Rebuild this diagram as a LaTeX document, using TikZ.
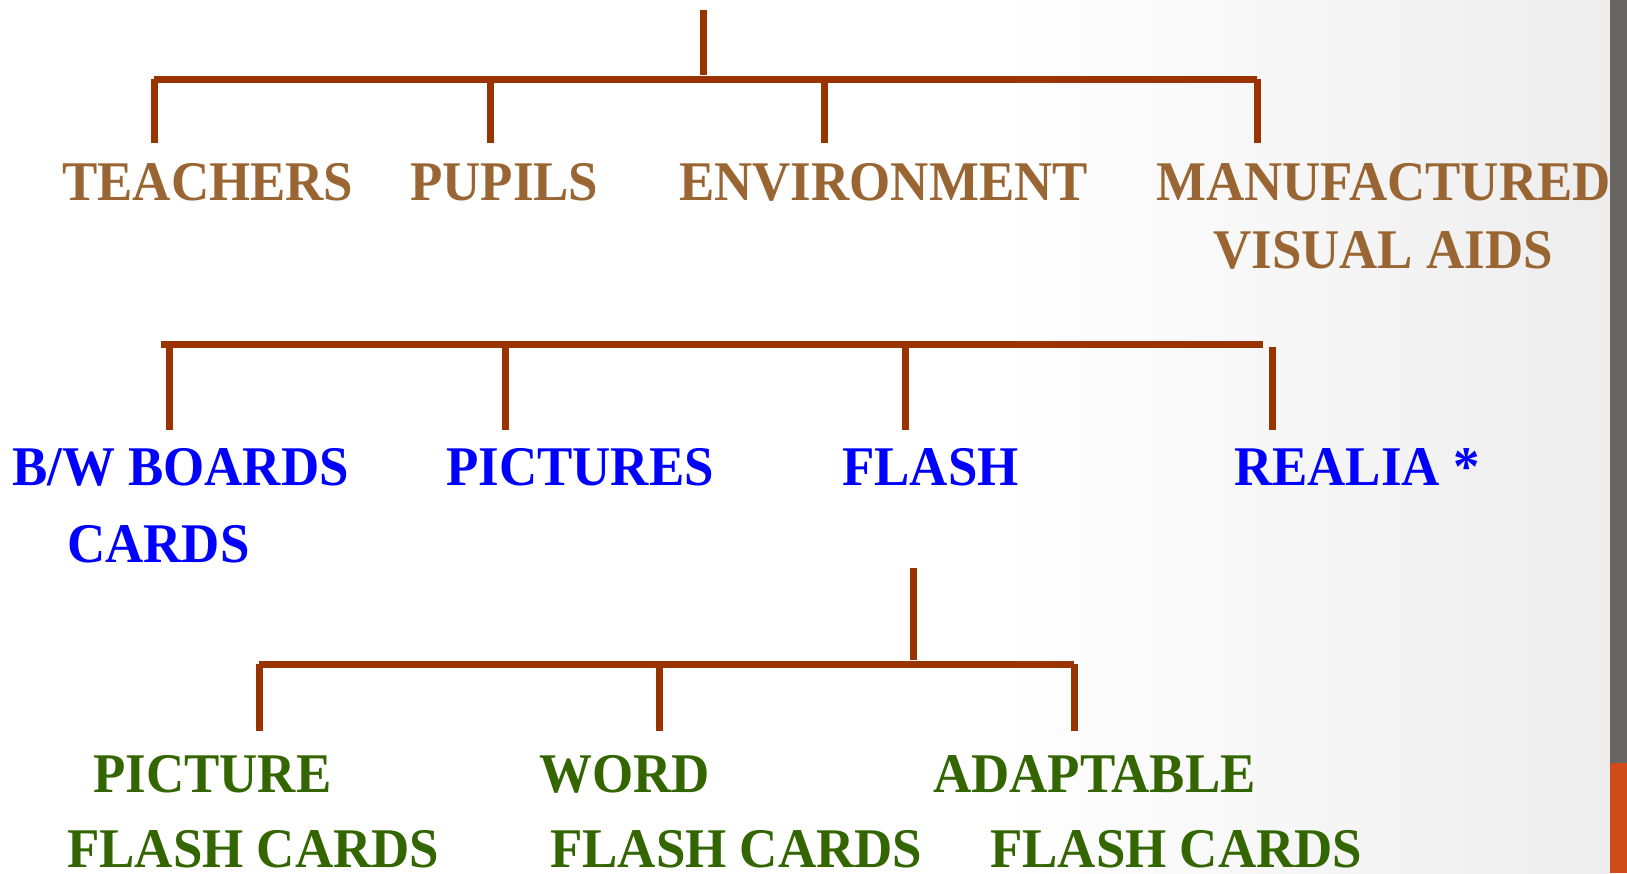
\documentclass[tikz,border=0pt]{standalone}
\usepackage{fontspec}
\setmainfont{Liberation Serif}[FakeStretch=0.945]
\usepackage{tikz}

\definecolor{linebrown}{RGB}{153,51,0}
\definecolor{textbrown}{RGB}{153,102,51}
\definecolor{textblue}{RGB}{0,0,255}
\definecolor{textgreen}{RGB}{51,102,0}
\definecolor{sidegray}{RGB}{103,100,98}
\definecolor{sideorange}{RGB}{208,74,26}

\tikzset{
  branch/.style={draw=linebrown, line width=7pt},
  label1/.style={anchor=base west, inner sep=0pt, text depth=0pt, text=textbrown, font=\fontsize{56}{66}\selectfont\bfseries},
  label2/.style={label1, text=textblue},
  label3/.style={label1, text=textgreen}
}

\begin{document}
\begin{tikzpicture}[x=1pt,y=-1pt]
  \useasboundingbox (0,0) rectangle (1627,873);
  \fill[white] (0,0) rectangle (1627,873);
  \shade[left color=white, right color=black!7] (1000,0) rectangle (1610,873);
  \fill[sidegray] (1610,0) rectangle (1627,763);
  \fill[sideorange] (1610,763) rectangle (1627,873);

  % first level
  \coordinate (root) at (703,10);
  \coordinate (rootj) at (703,75);
  \coordinate (bar1l) at (154,79);
  \coordinate (bar1r) at (1257,79);
  \draw[branch] (root) -- (rootj);
  \draw[branch] (bar1l) -- (bar1r);
  \foreach \n/\x in {tea/154,pup/490,env/824,man/1257}{
    \coordinate (\n top) at (\x,79);
    \coordinate (\n end) at (\x,143);
    \draw[branch] (\n top) -- (\n end);
  }
  \node[label1] (teachers) at (62,200) {TEACHERS};
  \node[label1] (pupils) at (410,200) {PUPILS};
  \node[label1] (environment) at (679,200) {ENVIRONMENT};
  \node[label1] (manufactured) at (1156,200) {MANUFACTURED};
  \node[label1] (visualaids) at (1213,268) {VISUAL AIDS};

  % second level
  \coordinate (bar2l) at (161,344);
  \coordinate (bar2r) at (1263,344);
  \draw[branch] (bar2l) -- (bar2r);
  \foreach \n/\x in {bw/169,pic/505,fla/905}{
    \coordinate (\n top) at (\x,344);
    \coordinate (\n end) at (\x,430);
    \draw[branch] (\n top) -- (\n end);
  }
  \coordinate (reatop) at (1272,347);
  \coordinate (reaend) at (1272,430);
  \draw[branch] (reatop) -- (reaend);
  \node[label2] (bwboards) at (12,485) {B/W BOARDS};
  \node[label2] (cards) at (67,562) {CARDS};
  \node[label2] (pictures) at (446,485) {PICTURES};
  \node[label2] (flash) at (842,485) {FLASH};
  \node[label2] (realia) at (1234,485) {REALIA *};

  % third level
  \coordinate (flroot) at (913,568);
  \coordinate (flrootj) at (913,660);
  \coordinate (bar3l) at (259,664);
  \coordinate (bar3r) at (1074,664);
  \draw[branch] (flroot) -- (flrootj);
  \draw[branch] (bar3l) -- (bar3r);
  \foreach \n/\x in {pcf/259,wcf/659,acf/1074}{
    \coordinate (\n top) at (\x,664);
    \coordinate (\n end) at (\x,731);
    \draw[branch] (\n top) -- (\n end);
  }
  \node[label3] (picture) at (93,792) {PICTURE};
  \node[label3] (picturefc) at (67,867) {FLASH CARDS};
  \node[label3] (word) at (539,792) {WORD};
  \node[label3] (wordfc) at (550,867) {FLASH CARDS};
  \node[label3] (adaptable) at (933,792) {ADAPTABLE};
  \node[label3] (adaptablefc) at (990,867) {FLASH CARDS};
\end{tikzpicture}
\end{document}
